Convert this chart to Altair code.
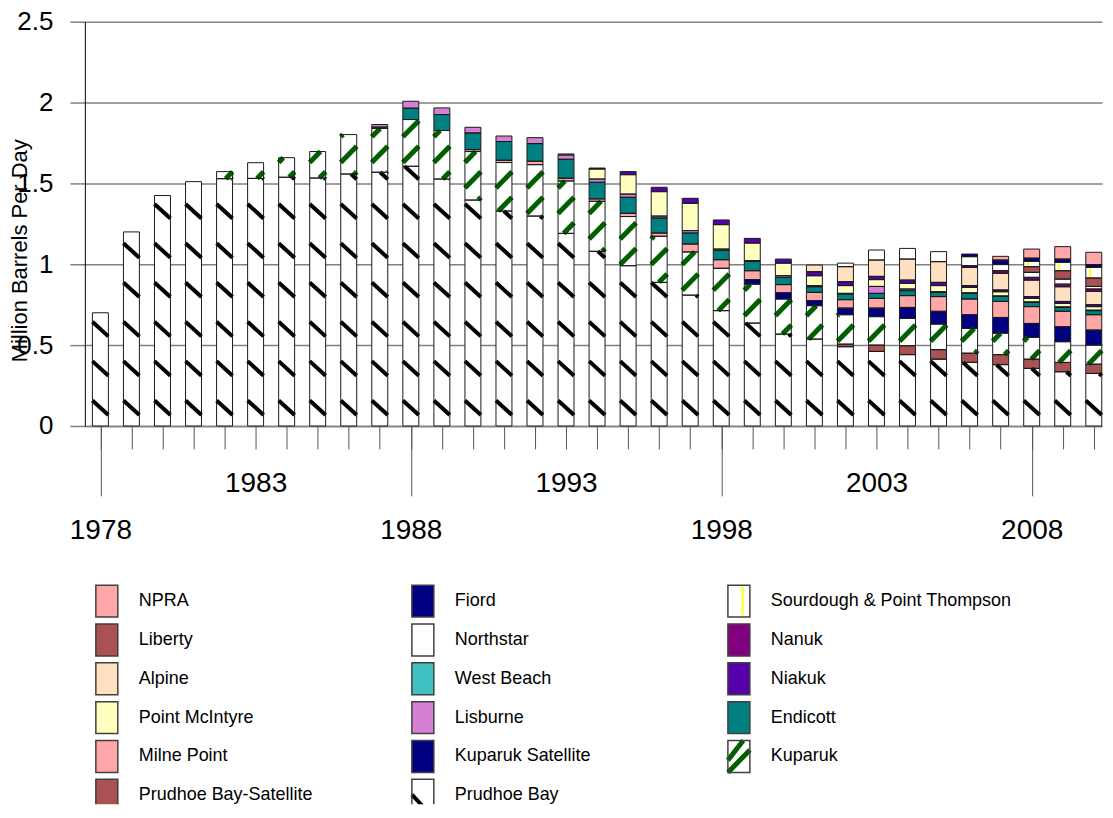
import altair as alt
import pandas as pd

# ---------------- data (million barrels per day) ----------------
years = list(range(1978, 2011))

series = ["Prudhoe Bay", "Prudhoe Bay-Satellite", "Kuparuk", "Kuparuk Satellite",
          "Milne Point", "Endicott", "Lisburne", "Point McIntyre", "Niakuk",
          "West Beach", "Alpine", "Nanuk", "Northstar", "Liberty",
          "Sourdough & Point Thompson", "Fiord", "NPRA"]
colors = ["#FFFFFF", "#AA5252", "#FFFFFF", "#000080", "#FFA6A6", "#008080",
          "#D580D5", "#FFFFC0", "#5500AA", "#40C0C0", "#FFE0C0", "#800080",
          "#FFFFFF", "#AA5252", "#FFFFFF", "#000080", "#FFA6A6"]

prudhoe_bay = [0.700, 1.200, 1.425, 1.511, 1.529, 1.531, 1.538, 1.533, 1.558, 1.569,
               1.606, 1.527, 1.397, 1.329, 1.298, 1.191, 1.080, 0.991, 0.888, 0.809,
               0.713, 0.636, 0.568, 0.537, 0.490, 0.461, 0.441, 0.413, 0.393, 0.379,
               0.356, 0.335, 0.325]
prudhoe_sat = [0] * 24 + [0.016, 0.039, 0.055, 0.059, 0.057, 0.062, 0.057, 0.058, 0.057]
kuparuk = [0] * 4 + [0.044, 0.097, 0.121, 0.164, 0.244, 0.271, 0.289, 0.300, 0.300,
                     0.300, 0.318, 0.324, 0.309, 0.304, 0.285, 0.267, 0.262, 0.241,
                     0.217, 0.207, 0.182, 0.176, 0.169, 0.158, 0.153, 0.133, 0.135,
                     0.128, 0.118]
kuparuk_sat = [0] * 21 + [0.028, 0.039, 0.031, 0.041, 0.053, 0.068, 0.079, 0.085,
                          0.097, 0.086, 0.093, 0.093]
milne_point = [0] * 12 + [0.012, 0.014, 0.021, 0.017, 0.015, 0.020, 0.020, 0.049,
                          0.053, 0.055, 0.050, 0.051, 0.052, 0.060, 0.073, 0.091,
                          0.097, 0.099, 0.104, 0.095, 0.095]
endicott = [0] * 9 + [0.008, 0.070, 0.099, 0.103, 0.116, 0.109, 0.117, 0.103, 0.099,
                      0.093, 0.068, 0.058, 0.058, 0.045, 0.035, 0.035, 0.031, 0.031,
                      0.026, 0.035, 0.031, 0.026, 0.024, 0.025]
lisburne = [0] * 9 + [0.016, 0.043, 0.041, 0.035, 0.034, 0.037, 0.027, 0.020, 0.020,
                      0.012, 0.015, 0.008, 0.004, 0.010, 0.007, 0.004, 0.043, 0.010,
                      0.004, 0.003, 0.003, 0.003, 0.003, 0.003]
point_mcintyre = [0] * 15 + [0.006, 0.062, 0.120, 0.151, 0.169, 0.151, 0.109, 0.078,
                             0.061, 0.048, 0.042, 0.035, 0.038, 0.034, 0.026, 0.022,
                             0.022, 0.022]
niakuk = [0] * 16 + [0.006, 0.019, 0.027, 0.031, 0.029, 0.029, 0.025, 0.025, 0.024,
                     0.020, 0.020, 0.020, 0.011, 0.011, 0.011, 0.012, 0.012]
west_beach = [0] * 33
alpine = [0] * 23 + [0.041, 0.093, 0.101, 0.130, 0.128, 0.113, 0.103, 0.102, 0.091, 0.082]
nanuk = [0] * 28 + [0.010, 0.016, 0.017, 0.016, 0.015]
northstar = [0] * 24 + [0.022, 0.062, 0.066, 0.062, 0.056, 0.038, 0.031, 0.031, 0.016]
liberty = [0] * 30 + [0.035, 0.052, 0.052]
sourdough = [0] * 30 + [0.033, 0.052, 0.066]
fiord = [0] * 28 + [0.016, 0.028, 0.020, 0.020, 0.017]
npra = [0] * 29 + [0.023, 0.056, 0.077, 0.076]

values = [prudhoe_bay, prudhoe_sat, kuparuk, kuparuk_sat, milne_point, endicott,
          lisburne, point_mcintyre, niakuk, west_beach, alpine, nanuk, northstar,
          liberty, sourdough, fiord, npra]

# legend layout (3 columns, read column by column)
legend_names = ["NPRA", "Liberty", "Alpine", "Point McIntyre", "Milne Point",
                "Prudhoe Bay-Satellite",
                "Fiord", "Northstar", "West Beach", "Lisburne", "Kuparuk Satellite",
                "Prudhoe Bay",
                "Sourdough & Point Thompson", "Nanuk", "Niakuk", "Endicott", "Kuparuk"]
legend_col = [0] * 6 + [1] * 6 + [2] * 5
legend_row = list(range(6)) + list(range(6)) + list(range(5))

# ---------------- tables ----------------
rows = []
for i, yr in enumerate(years):
    for j, s in enumerate(series):
        rows.append({"year": yr, "series": s, "order": j, "value": values[j][i]})
df = pd.DataFrame(rows)

HALF = 0.257  # half bar width in years


def stripes(lo_list, hi_list, start, step, slope, up):
    out = []
    for i, yr in enumerate(years):
        lo, hi = lo_list[i], hi_list[i]
        if hi - lo <= 0:
            continue
        k = -3
        while True:
            a = start + step * k
            k += 1
            if a - slope > hi + step:
                break
            if up:
                t0 = max(0.0, (lo - a) / slope)
                t1 = min(1.0, (hi - a) / slope)
                if t1 <= t0:
                    continue
                ys, ye = a + slope * t0, a + slope * t1
            else:
                t0 = max(0.0, (a - hi) / slope)
                t1 = min(1.0, (a - lo) / slope)
                if t1 <= t0:
                    continue
                ys, ye = a - slope * t0, a - slope * t1
            out.append({"xs": yr - HALF + 2 * HALF * t0, "xe": yr - HALF + 2 * HALF * t1,
                        "ys": ys, "ye": ye})
    return pd.DataFrame(out)


kup_lo = [prudhoe_bay[i] + prudhoe_sat[i] for i in range(len(years))]
kup_hi = [kup_lo[i] + kuparuk[i] for i in range(len(years))]
pb_stripes = stripes([0] * len(years), prudhoe_bay, 0.158, 0.243, 0.09, False)
kup_stripes = stripes(kup_lo, kup_hi, 0.05, 0.158, 0.10, True)

cum_before_spt = [sum(values[j][i] for j in range(14)) for i in range(len(years))]
spt_df = pd.DataFrame([{"x": yr - 0.12, "ys": cum_before_spt[i],
                        "ye": cum_before_spt[i] + sourdough[i]}
                       for i, yr in enumerate(years) if sourdough[i] > 0])

leg_df = pd.DataFrame({"name": legend_names, "col": legend_col, "row": legend_row})

# ---------------- scales / axes ----------------
FONT = "Liberation Sans, Arial, sans-serif"
PLOT_W = 1019
xscale = alt.Scale(domain=[1977.5, 2010.265], nice=False, zero=False)
yscale = alt.Scale(domain=[0, 2.5], nice=False)
fill_scale = alt.Scale(domain=series, range=colors)

x_axis_a = alt.Axis(values=years, tickSize=23, tickColor="#555555", tickWidth=1,
                    labelExpr="indexof([1983, 1993, 2003], datum.value) >= 0 ? '' + datum.value : ''",
                    labelFont=FONT, labelFontSize=28, labelPadding=21, labelColor="#000000",
                    labelOverlap=False, labelFlush=False, grid=False, domain=True,
                    domainColor="#808080", domainWidth=1.5, title=None, orient="bottom")
x_axis_b = alt.Axis(values=[1978, 1988, 1998, 2008], tickSize=70, tickColor="#555555",
                    tickWidth=1, labelExpr="'' + datum.value", labelFont=FONT,
                    labelFontSize=28, labelPadding=21, labelColor="#000000",
                    labelOverlap=False, labelFlush=False, grid=False, domain=False,
                    title=None, orient="bottom")
y_axis = alt.Axis(values=[0, 0.5, 1, 1.5, 2, 2.5], labelExpr="'' + datum.value",
                  grid=True, gridColor="#808080", gridWidth=1.5,
                  tickSize=15, tickColor="#808080", tickWidth=1.5,
                  domainColor="#000000", domainWidth=1,
                  labelFont=FONT, labelFontSize=26, labelPadding=17, labelColor="#000000",
                  title="Million Barrels Per Day", titleFont=FONT,
                  titleFontSize=22, titleFontWeight="normal", titleColor="#000000",
                  titlePadding=-15, titleY=229)

base = alt.Chart(df).transform_filter("datum.value > 0").transform_stack(
    stack="value", groupby=["year"], as_=["y0", "y1"],
    sort=[alt.SortField("order", order="ascending")]
).transform_calculate(xa=f"datum.year - {HALF}", xb=f"datum.year + {HALF}")

bars = base.mark_rect(strokeWidth=0).encode(
    x=alt.X("xa:Q", scale=xscale, axis=x_axis_a),
    x2="xb:Q",
    y=alt.Y("y0:Q", scale=yscale, axis=y_axis),
    y2="y1:Q",
    fill=alt.Fill("series:N", scale=fill_scale, legend=None),
)

pb_layer = alt.Chart(pb_stripes).mark_rule(color="#000000", strokeWidth=4, strokeCap="butt").encode(
    x=alt.X("xs:Q", scale=xscale, axis=x_axis_b),
    x2="xe:Q",
    y=alt.Y("ys:Q", scale=yscale, axis=None),
    y2="ye:Q",
)

kup_layer = alt.Chart(kup_stripes).mark_rule(color="#006000", strokeWidth=5, strokeCap="butt").encode(
    x=alt.X("xs:Q", scale=xscale, axis=None),
    x2="xe:Q",
    y=alt.Y("ys:Q", scale=yscale, axis=None),
    y2="ye:Q",
)

spt_layer = alt.Chart(spt_df).mark_rule(color="#FFFF40", strokeWidth=2.5).encode(
    x=alt.X("x:Q", scale=xscale, axis=None),
    y=alt.Y("ys:Q", scale=yscale, axis=None),
    y2="ye:Q",
)

outlines = base.mark_rect(fillOpacity=0, stroke="#1a1a1a", strokeWidth=1).encode(
    x=alt.X("xa:Q", scale=xscale, axis=None),
    x2="xb:Q",
    y=alt.Y("y0:Q", scale=yscale, axis=None),
    y2="y1:Q",
)

top = alt.layer(bars, pb_layer, kup_layer, spt_layer, outlines).resolve_axis(
    x="independent", y="independent").properties(width=PLOT_W, height=405)

# ---------------- legend panel ----------------
lx = alt.X("col:Q", scale=alt.Scale(domain=[-0.0695, 3.149], nice=False, zero=False), axis=None)
ly = alt.Y("row:Q", scale=alt.Scale(domain=[-0.5, 5.23], nice=False, zero=False, reverse=True),
           axis=None)
RECT = "M-0.6875,-1L0.6875,-1L0.6875,1L-0.6875,1Z"

leg_base = alt.Chart(leg_df)
sym = leg_base.mark_point(shape=RECT, size=1024, filled=True, opacity=1, strokeWidth=0,
                          clip=True).encode(
    x=lx, y=ly, fill=alt.Fill("name:N", scale=fill_scale, legend=None))
pb_sym = leg_base.transform_filter("datum.name == 'Prudhoe Bay'").mark_point(
    shape="M-0.6875,-0.05L0.15,0.85", size=1024, filled=False, opacity=1,
    stroke="#000000", strokeWidth=4, clip=True).encode(x=lx, y=ly)
kup_sym = leg_base.transform_filter("datum.name == 'Kuparuk'").mark_point(
    shape="M-0.6875,0.23L0.27,-1M-0.6875,1L0.6875,-0.4", size=1024, filled=False,
    opacity=1, stroke="#006000", strokeWidth=5, clip=True).encode(x=lx, y=ly)
spt_sym = leg_base.transform_filter("datum.name == 'Sourdough & Point Thompson'").mark_point(
    shape="M0.23,-1L0.23,1", size=1024, filled=False, opacity=1,
    stroke="#FFFF40", strokeWidth=2.5, clip=True).encode(x=lx, y=ly)
sym_out = leg_base.mark_point(shape=RECT, size=1024, filled=False, opacity=1,
                              stroke="#404040", strokeWidth=1.5, clip=True).encode(x=lx, y=ly)
txt = leg_base.mark_text(align="left", baseline="middle", dx=32, font=FONT,
                         fontSize=18, color="#000000").encode(
    x=lx, y=ly, text="name:N")

legend = alt.layer(sym, pb_sym, kup_sym, spt_sym, sym_out, txt).properties(
    width=PLOT_W, height=223)

chart = alt.vconcat(top, legend, spacing=37).properties(
    padding={"left": 0, "top": 0, "right": 0, "bottom": 0}, background="#FFFFFF"
).configure_view(strokeWidth=0)

chart.save("out.html", embed_options={"renderer": "svg", "actions": False})
